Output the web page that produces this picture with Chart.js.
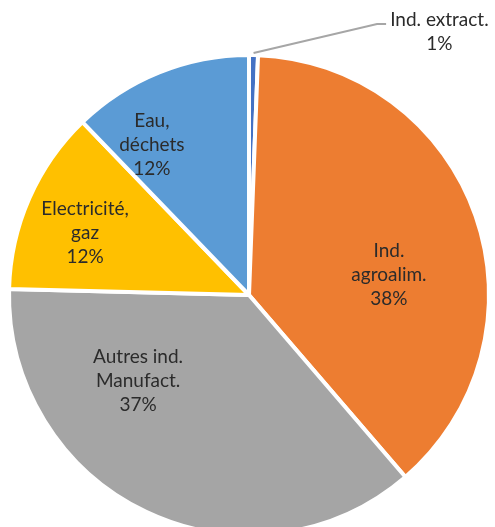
<!DOCTYPE html>
<html>
<head>
    <meta charset="utf-8">
    <script src="https://cdn.jsdelivr.net/npm/chart.js"></script>
    <style>
      * {
        margin: 0;
        padding: 0;
      }
      body {
        background: #fff;
        overflow: hidden;
      }
      .chartBox {
        width: 495px;
        height: 590px;
      }
    </style>
</head>
<body>
    <div class="chartBox">
        <canvas id="chart"></canvas>
    </div>
<script>
    // slices, clockwise from 12 o'clock
    const categories = [
        ['Ind. extract.'],
        ['Ind.', 'agroalim.'],
        ['Autres ind.', 'Manufact.'],
        ['Electricité,', 'gaz'],
        ['Eau,', 'déchets']
    ];
    const shares = [0.6, 38.1, 36.7, 12.4, 12.2];
    const colors = ['#4472C4', '#ED7D31', '#A5A5A5', '#FFC000', '#5B9BD5'];

    // where each label block sits, as a fraction of the radius from the centre
    const labelPos = [
        [0.80, -1.105],
        [0.588, -0.084],
        [-0.466, 0.361],
        [-0.689, -0.26],
        [-0.408, -0.63]
    ];

    const total = shares.reduce((a, b) => a + b, 0);

    const pieLabels = {
        id: 'pieLabels',
        afterDatasetsDraw(chart) {
            const ctx = chart.ctx;
            const meta = chart.getDatasetMeta(0);
            const arc0 = meta.data[0];
            const cx = arc0.x, cy = arc0.y;
            const R = arc0.outerRadius - 2;

            // leader line for the thin slice
            const mid = (arc0.startAngle + arc0.endAngle) / 2;
            ctx.save();
            ctx.strokeStyle = '#A6A6A6';
            ctx.lineWidth = 2;
            ctx.beginPath();
            ctx.moveTo(cx + Math.cos(mid) * (R + 4), cy + Math.sin(mid) * (R + 4));
            ctx.lineTo(cx + 0.538 * R, cy - 1.139 * R);
            ctx.lineTo(cx + 0.576 * R, cy - 1.139 * R);
            ctx.stroke();

            ctx.font = '19px Lato';
            ctx.fillStyle = '#2b2b2b';
            ctx.textAlign = 'center';
            ctx.textBaseline = 'middle';
            const lh = 24;
            categories.forEach((lines, i) => {
                const all = lines.concat([Math.round(shares[i] / total * 100) + '%']);
                const x = cx + labelPos[i][0] * R;
                const y0 = cy + labelPos[i][1] * R - (all.length - 1) * lh / 2;
                all.forEach((t, j) => ctx.fillText(t, x, y0 + j * lh));
            });
            ctx.restore();
        }
    };

    const config = {
        type: 'pie',
        data: {
            labels: categories,
            datasets: [{
                data: shares,
                backgroundColor: colors,
                borderColor: '#fff',
                borderWidth: 4
            }]
        },
        options: {
            responsive: true,
            maintainAspectRatio: false,
            animation: false,
            radius: 240,
            layout: {
                padding: { left: 3, right: 0, top: 0, bottom: 0 }
            },
            plugins: {
                legend: { display: false },
                tooltip: { enabled: false }
            }
        },
        plugins: [pieLabels]
    };

    const chart = new Chart(document.getElementById('chart'), config);
</script>
</body>
</html>
